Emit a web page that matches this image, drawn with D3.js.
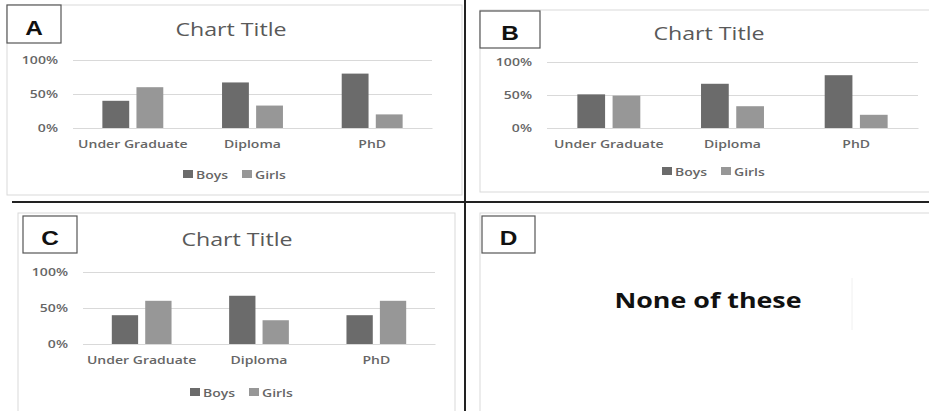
<!DOCTYPE html>
<html>
<head>
<meta charset="utf-8">
<script src="https://cdn.jsdelivr.net/npm/d3@7"></script>
<style>
  body { margin: 0; background: #fff; }
  svg { display: block; }
</style>
</head>
<body>
<div id="chart"></div>
<script>
const categories = ["Under Graduate", "Diploma", "PhD"];
const seriesNames = ["Boys", "Girls"];
const yTicks = [0, 0.5, 1];

const boysA = [0.40, 0.67, 0.80];
const girlsA = [0.60, 0.33, 0.20];
const boysB = [0.51, 0.67, 0.80];
const girlsB = [0.49, 0.33, 0.20];
const boysC = [0.40, 0.67, 0.40];
const girlsC = [0.60, 0.33, 0.60];

const WIDTH = 929, HEIGHT = 411;
const COLORS = { Boys: "#6b6b6b", Girls: "#979797" };
const FONT = "'Open Sans', 'Noto Sans', sans-serif";
const TEXT = "#595959";
// the source picture is stretched sideways, so text gets stretched too
const SX = 1.22;

const svg = d3.select("#chart").append("svg")
  .attr("width", WIDTH)
  .attr("height", HEIGHT)
  .style("background", "white");

function stretch(sel) {
  sel.each(function () {
    const t = d3.select(this);
    const x = +t.attr("x") || 0;
    const y = +t.attr("y") || 0;
    t.attr("x", 0).attr("y", 0)
      .attr("transform", `translate(${x},${y}) scale(${SX},1)`);
  });
}

// one excel-like chart panel
function drawPanel(p) {
  const g = svg.append("g");

  g.append("rect")
    .attr("x", p.frame.x).attr("y", p.frame.y)
    .attr("width", p.frame.w).attr("height", p.frame.h)
    .attr("fill", "white").attr("stroke", "#d9d9d9");

  if (p.boys) {
    g.append("text")
      .attr("x", p.titleX).attr("y", p.titleY)
      .attr("text-anchor", "middle")
      .attr("font-family", FONT).attr("font-size", 19)
      .attr("fill", TEXT)
      .text("Chart Title")
      .call(stretch);

    const y = d3.scaleLinear().domain([0, 1]).range([p.plot.bottom, p.plot.top]);
    const x0 = d3.scaleBand().domain(categories).range([p.plot.left, p.plot.right]);
    const x1 = d3.scaleBand().domain(seriesNames)
      .range([0, x0.bandwidth()])
      .paddingInner(0.2126).paddingOuter(0.862);

    const yAxis = g.append("g")
      .attr("transform", `translate(${p.plot.left},0)`)
      .call(d3.axisLeft(y).tickValues(yTicks).tickFormat(d3.format(".0%"))
        .tickSize(-(p.plot.right - p.plot.left)).tickPadding(15));
    yAxis.select(".domain").remove();
    yAxis.selectAll("line").attr("stroke", "#d9d9d9");
    yAxis.selectAll("text")
      .attr("font-family", FONT).attr("font-size", 11.5).attr("font-weight", 600)
      .attr("fill", "#666")
      .call(stretch);

    const xAxis = g.append("g")
      .attr("transform", `translate(0,${p.plot.bottom})`)
      .call(d3.axisBottom(x0).tickSize(0).tickPadding(12));
    xAxis.select(".domain").attr("stroke", "#d9d9d9");
    xAxis.selectAll("text")
      .attr("font-family", FONT).attr("font-size", 11.5).attr("font-weight", 600)
      .attr("fill", "#666")
      .call(stretch);

    const rows = categories.map((c, i) => ({ cat: c, Boys: p.boys[i], Girls: p.girls[i] }));

    g.append("g").selectAll("g")
      .data(rows)
      .join("g")
      .attr("transform", (d) => `translate(${x0(d.cat)},0)`)
      .selectAll("rect")
      .data((d) => seriesNames.map((s) => ({ s: s, v: d[s] })))
      .join("rect")
      .attr("x", (d) => x1(d.s))
      .attr("y", (d) => y(d.v))
      .attr("width", x1.bandwidth())
      .attr("height", (d) => y(0) - y(d.v))
      .attr("fill", (d) => COLORS[d.s]);

    // legend
    const leg = g.append("g").attr("transform", `translate(${p.legendX},${p.legendY})`);
    const items = leg.selectAll("g").data(seriesNames).join("g")
      .attr("transform", (d, i) => `translate(${i * 59},0)`);
    items.append("rect")
      .attr("x", 0).attr("y", -9).attr("width", 10).attr("height", 8)
      .attr("fill", (d) => COLORS[d]);
    items.append("text")
      .attr("x", 13).attr("y", 0)
      .attr("font-family", FONT).attr("font-size", 11.5).attr("font-weight", 600)
      .attr("fill", "#666")
      .text((d) => d)
      .call(stretch);
  }

  // answer letter box
  g.append("rect")
    .attr("x", p.box.x).attr("y", p.box.y)
    .attr("width", p.box.w).attr("height", p.box.h)
    .attr("fill", "white").attr("stroke", "#555").attr("stroke-width", 1.2);
  g.append("text")
    .attr("x", p.box.x + p.box.w / 2).attr("y", p.box.y + p.box.h - 8)
    .attr("text-anchor", "middle")
    .attr("font-family", "'Liberation Sans', Arial, sans-serif")
    .attr("font-weight", "bold").attr("font-size", 20)
    .attr("fill", "#111")
    .text(p.letter)
    .call(stretch);

  return g;
}

drawPanel({
  letter: "A", boys: boysA, girls: girlsA,
  frame: { x: 7, y: 5, w: 455, h: 190 },
  box: { x: 7, y: 5, w: 54, h: 38 },
  titleX: 231, titleY: 36,
  plot: { left: 73, right: 432, top: 60, bottom: 128 },
  legendX: 183, legendY: 179
});

drawPanel({
  letter: "B", boys: boysB, girls: girlsB,
  frame: { x: 480, y: 10, w: 470, h: 182 },
  box: { x: 480, y: 11, w: 60, h: 37 },
  titleX: 709, titleY: 40,
  plot: { left: 547, right: 918, top: 62, bottom: 128 },
  legendX: 662, legendY: 176
});

drawPanel({
  letter: "C", boys: boysC, girls: girlsC,
  frame: { x: 18, y: 213, w: 437, h: 220 },
  box: { x: 23, y: 216, w: 54, h: 37 },
  titleX: 237, titleY: 246,
  plot: { left: 83, right: 435, top: 272, bottom: 344 },
  legendX: 190, legendY: 397
});

const panelD = drawPanel({
  letter: "D",
  frame: { x: 480, y: 213, w: 470, h: 220 },
  box: { x: 482, y: 216, w: 53, h: 37 }
});

panelD.append("line")
  .attr("x1", 852).attr("x2", 852).attr("y1", 278).attr("y2", 330)
  .attr("stroke", "#f0f0f0");

panelD.append("text")
  .attr("x", 708).attr("y", 308)
  .attr("text-anchor", "middle")
  .attr("font-family", FONT).attr("font-weight", "bold").attr("font-size", 22)
  .attr("fill", "#111")
  .text("None of these")
  .call(stretch);

// quadrant dividers
svg.append("line")
  .attr("x1", 12).attr("x2", WIDTH).attr("y1", 202).attr("y2", 202)
  .attr("stroke", "#222").attr("stroke-width", 2);
svg.append("line")
  .attr("x1", 465).attr("x2", 465).attr("y1", 0).attr("y2", HEIGHT)
  .attr("stroke", "#222").attr("stroke-width", 2);
</script>
</body>
</html>
